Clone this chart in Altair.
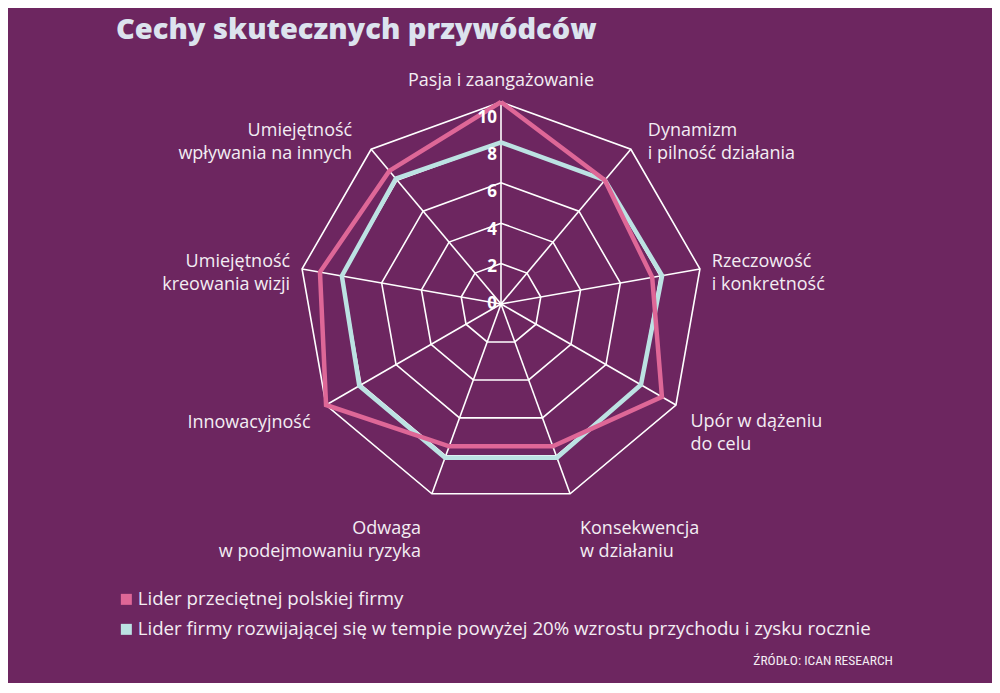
import math
import altair as alt
import pandas as pd

TITLE = "Cechy skutecznych przywódców"
SOURCE = "ŹRÓDŁO: ICAN RESEARCH"

categories = [
    "Pasja i zaangażowanie",
    "Dynamizm i pilność działania",
    "Rzeczowość i konkretność",
    "Upór w dążeniu do celu",
    "Konsekwencja w działaniu",
    "Odwaga w podejmowaniu ryzyka",
    "Innowacyjność",
    "Umiejętność kreowania wizji",
    "Umiejętność wpływania na innych",
]
label_lines = [
    ["Pasja i zaangażowanie"],
    ["Dynamizm", "i pilność działania"],
    ["Rzeczowość", "i konkretność"],
    ["Upór w dążeniu", "do celu"],
    ["Konsekwencja", "w działaniu"],
    ["Odwaga", "w podejmowaniu ryzyka"],
    ["Innowacyjność"],
    ["Umiejętność", "kreowania wizji"],
    ["Umiejętność", "wpływania na innych"],
]
avg_leader = [10.0, 8.0, 7.6, 9.2, 7.5, 7.5, 10.0, 9.1, 8.6]
growth_leader = [8.0, 8.0, 8.1, 8.0, 8.1, 8.1, 8.1, 8.0, 8.1]
series_names = [
    "Lider przeciętnej polskiej firmy",
    "Lider firmy rozwijającej się w tempie powyżej 20% wzrostu przychodu i zysku rocznie",
]
tick_values = [0, 2, 4, 6, 8, 10]
ring_values = [2, 4, 6, 8, 10]
label_radius = 11.0

# ---- styles ----
BG = "#6D2660"
PINK = "#DE6797"
CYAN = "#BCE2E3"
GRID = "#FFFFFF"
TEXT = "#F3EDF3"
TITLE_C = "#DCE3EE"
FONT = "Open Sans"

W, H = 984, 675
CX, CY = 493, 296
PX = 20.2

xs = alt.Scale(domain=[-CX / PX, (W - CX) / PX], nice=False, zero=False)
ys = alt.Scale(domain=[-(H - CY) / PX, CY / PX], nice=False, zero=False)

n = len(categories)
angles = [2 * math.pi * i / n for i in range(n)]


def px(v, a):
    return v * math.sin(a)


def py(v, a):
    return v * math.cos(a)


# series polygons
rows = []
for name, vals in zip(series_names, [avg_leader, growth_leader]):
    for k in range(n + 1):
        i = k % n
        rows.append({"series": name, "order": k, "x": px(vals[i], angles[i]),
                     "y": py(vals[i], angles[i]), "cat": categories[i], "value": vals[i]})
series_df = pd.DataFrame(rows)

# rings
ring_rows = []
for r in ring_values:
    for k in range(n + 1):
        i = k % n
        ring_rows.append({"ring": r, "order": k, "x": px(r, angles[i]), "y": py(r, angles[i])})
ring_df = pd.DataFrame(ring_rows)

# spokes
spoke_df = pd.DataFrame({
    "cat": categories,
    "x0": [0.0] * n, "y0": [0.0] * n,
    "x": [px(ring_values[-1], a) for a in angles],
    "y": [py(ring_values[-1], a) for a in angles],
})

tick_df = pd.DataFrame({"v": tick_values, "label": [str(t) for t in tick_values]})

color = alt.Color(
    "series:N",
    scale=alt.Scale(domain=series_names, range=[PINK, CYAN]),
    legend=alt.Legend(title=None, orient="none", legendX=109, legendY=582,
                      symbolType="square", symbolSize=1, symbolStrokeWidth=10,
                      symbolOpacity=1, labelFont=FONT, labelFontSize=18.7,
                      labelColor=TEXT, labelLimit=950, rowPadding=-12,
                      labelOffset=2, padding=0, direction="vertical"),
)

rings_layer = alt.Chart(ring_df).mark_line(color=GRID, strokeWidth=1.6).encode(
    x=alt.X("x:Q", scale=xs, axis=None),
    y=alt.Y("y:Q", scale=ys, axis=None),
    detail="ring:N",
    order="order:Q",
)

spokes_layer = alt.Chart(spoke_df).mark_rule(color=GRID, strokeWidth=1.6).encode(
    x=alt.X("x0:Q", scale=xs, axis=None),
    y=alt.Y("y0:Q", scale=ys, axis=None),
    x2="x:Q",
    y2="y:Q",
)


def series_layer(name):
    return alt.Chart(series_df[series_df["series"] == name]).mark_line(
        strokeWidth=4.5, strokeJoin="miter"
    ).encode(
        x=alt.X("x:Q", scale=xs, axis=None),
        y=alt.Y("y:Q", scale=ys, axis=None),
        color=color,
        order="order:Q",
    )


cyan_layer = series_layer(series_names[1])
pink_layer = series_layer(series_names[0])

ticks_layer = alt.Chart(tick_df).transform_calculate(
    ty="datum.v * 0.92", tx="0"
).mark_text(align="right", baseline="middle", dx=-4, font=FONT, fontWeight="bold",
            fontSize=17, color="#FFFFFF").encode(
    x=alt.X("tx:Q", scale=xs, axis=None),
    y=alt.Y("ty:Q", scale=ys, axis=None),
    text="label:N",
)

# category labels: (align, baseline, dx, dy)
label_styles = [
    ("center", "middle", 0, -1),
    ("left", "middle", 4, -3),
    ("left", "middle", -8, -3),
    ("left", "top", -3, -2),
    ("left", "top", 3, 7),
    ("right", "top", -4, 7),
    ("right", "top", 2, -1),
    ("right", "middle", 8, -3),
    ("right", "middle", -6, -3),
]
label_layers = []
for i in range(n):
    al, bl, dx, dy = label_styles[i]
    df = pd.DataFrame({
        "x": [px(label_radius, angles[i])],
        "y": [py(label_radius, angles[i])],
        "text": [label_lines[i]],
    })
    label_layers.append(
        alt.Chart(df).mark_text(align=al, baseline=bl, dx=dx, dy=dy, font=FONT,
                                fontSize=18, lineHeight=23, color=TEXT).encode(
            x=alt.X("x:Q", scale=xs, axis=None),
            y=alt.Y("y:Q", scale=ys, axis=None),
            text="text",
        )
    )

title_layer = alt.Chart(pd.DataFrame({"t": [TITLE]})).mark_text(
    align="left", baseline="alphabetic", font="Open Sans", fontWeight=800,
    fontSize=29, color=TITLE_C
).encode(x=alt.value(108), y=alt.value(31), text="t:N")

source_layer = alt.Chart(pd.DataFrame({"t": [SOURCE]})).mark_text(
    align="right", baseline="middle", font="Roboto Condensed, Roboto",
    fontSize=13.5, color=TEXT
).encode(x=alt.value(885), y=alt.value(653), text="t:N")

chart = alt.layer(
    rings_layer, spokes_layer, cyan_layer, pink_layer, ticks_layer,
    *label_layers, title_layer, source_layer
).properties(
    width=W, height=H, padding=0, autosize=alt.AutoSizeParams(type="none"),
    background=BG,
).configure_view(stroke=None)

chart.save("out.html", embed_options={"renderer": "svg", "actions": False})
